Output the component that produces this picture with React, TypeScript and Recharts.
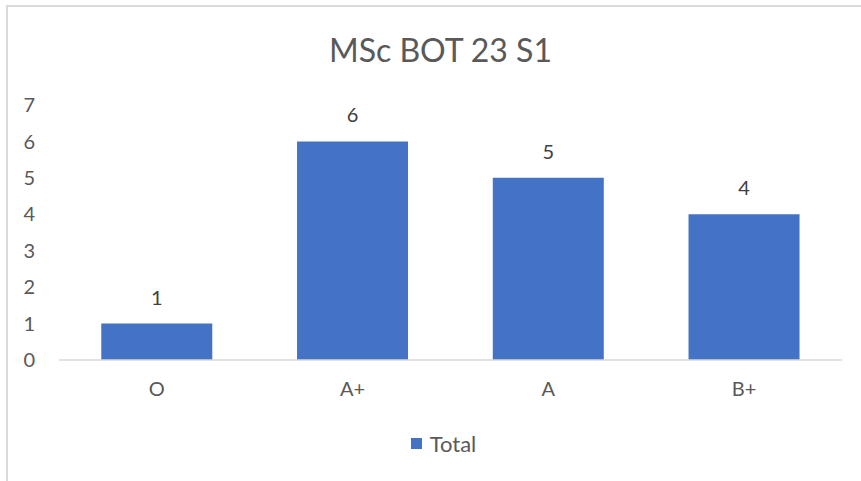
import { BarChart, Bar, XAxis, YAxis, Legend, LabelList } from 'recharts'

const grades = ['O', 'A+', 'A', 'B+']
const totals = [1, 6, 5, 4]
const yTicks = [0, 1, 2, 3, 4, 5, 6, 7]
const chartTitle = 'MSc BOT 23 S1'

const data = grades.map((g, i) => ({ grade: g, Total: totals[i] }))

const FONT = 'Lato, "Open Sans", sans-serif'
const TEXT = '#595959'

function LegendContent() {
  return (
    <div style={{ display: 'flex', justifyContent: 'center', alignItems: 'center', paddingLeft: 26, fontFamily: FONT, fontSize: 22, color: TEXT }}>
      <span style={{ width: 11, height: 11, background: '#4472C4', marginRight: 8, display: 'inline-block' }} />
      <span>Total</span>
    </div>
  )
}

export default function App() {
  return (
    <div style={{ position: 'absolute', left: 0, top: 0, width: 861, height: 481, background: '#fff', overflow: 'hidden' }}>
      <div style={{ position: 'absolute', left: 6, top: 5, right: 0, bottom: 0, borderLeft: '2px solid #d9d9d9', borderTop: '2px solid #d9d9d9' }} />
      <div style={{ position: 'absolute', left: 0, width: 881, top: 30, textAlign: 'center', fontFamily: FONT, fontSize: 32, color: TEXT }}>
        {chartTitle}
      </div>
      <div style={{ position: 'absolute', left: 0, top: 0 }}>
        <BarChart width={861} height={481} data={data} margin={{ top: 105, right: 19, left: 0, bottom: 51 }} barCategoryGap="21.6%">
          <XAxis dataKey="grade" height={30} tickLine={false} tickSize={0} tickMargin={22}
            axisLine={{ stroke: '#d9d9d9', strokeWidth: 1.5 }}
            tick={{ fontSize: 20, fill: TEXT, fontFamily: FONT }} />
          <YAxis width={59} domain={[0, 7]} ticks={yTicks} axisLine={false} tickLine={false} tickSize={0} tickMargin={24}
            tick={{ fontSize: 20, fill: TEXT, fontFamily: FONT }} />
          <Legend verticalAlign="bottom" height={40} wrapperStyle={{ top: 430, left: 0, width: 861 }} content={<LegendContent />} />
          <Bar dataKey="Total" fill="#4472C4" isAnimationActive={false}>
            <LabelList dataKey="Total" position="top" offset={19} style={{ fontSize: 20, fill: '#404040', fontFamily: FONT }} />
          </Bar>
        </BarChart>
      </div>
    </div>
  )
}
